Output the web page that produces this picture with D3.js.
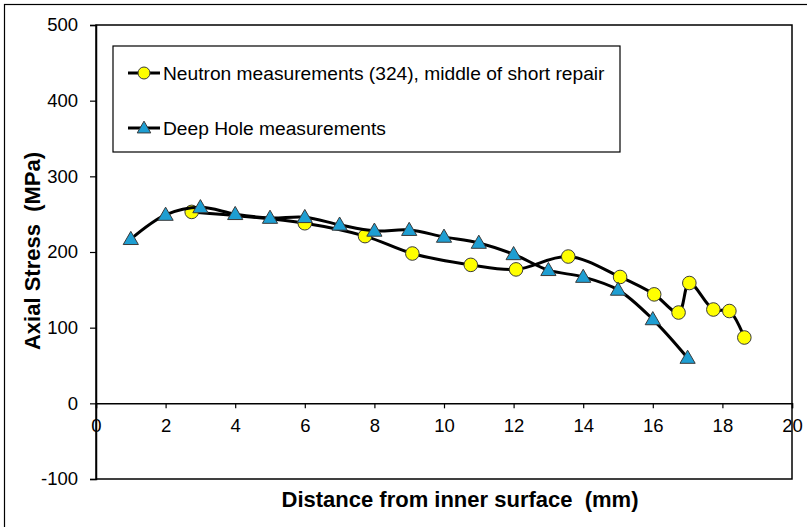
<!DOCTYPE html>
<html>
<head>
<meta charset="utf-8">
<script src="https://cdn.jsdelivr.net/npm/d3@7"></script>
<style>
  html, body { margin: 0; padding: 0; background: #fff; }
  svg { display: block; font-family: "Liberation Sans", Arial, sans-serif; }
  text { white-space: pre; }
</style>
</head>
<body>
<svg id="chart" width="807" height="527"></svg>
<script>
// Neutron measurements (324), middle of short repair
const neutronX = [2.75, 6.0, 7.73, 9.09, 10.77, 12.07, 13.57, 15.06, 16.04, 16.74, 17.05, 17.74, 18.2, 18.63];
const neutronY = [253, 238, 221, 198, 183, 177, 194, 167, 144, 120, 159, 124, 122, 87];

// Deep hole measurements
const deepX = [1, 2, 3, 4, 5, 6, 7, 8, 9, 10, 11, 12, 13, 14, 15, 16, 17];
const deepY = [217, 249, 259, 250, 245, 246, 236, 228, 229, 220, 212, 197, 176, 167, 150, 111, 60];

const xTicks = [0, 2, 4, 6, 8, 10, 12, 14, 16, 18, 20];
const yTicks = [-100, 0, 100, 200, 300, 400, 500];

const seriesNames = ["Neutron measurements (324), middle of short repair", "Deep Hole measurements"];

const svg = d3.select("#chart");
const FONT = "Liberation Sans, Arial, sans-serif";

// outer chart border
svg.append("rect")
  .attr("x", 4.5).attr("y", 4.5)
  .attr("width", 830).attr("height", 540)
  .attr("fill", "none").attr("stroke", "#000").attr("stroke-width", 1.2);

const plot = { left: 96, right: 792, top: 25, bottom: 479 };

const x = d3.scaleLinear().domain([0, 20]).range([plot.left, plot.right]);
const y = d3.scaleLinear().domain([-100, 500]).range([plot.bottom, plot.top]);

// plot frame
svg.append("rect")
  .attr("x", plot.left).attr("y", plot.top)
  .attr("width", plot.right - plot.left).attr("height", plot.bottom - plot.top)
  .attr("fill", "none").attr("stroke", "#000").attr("stroke-width", 1.5);

// y axis
const yAxis = svg.append("g")
  .attr("transform", `translate(${plot.left},0)`)
  .call(d3.axisLeft(y).tickValues(yTicks).tickSize(6).tickPadding(12).tickFormat(d => String(d)));
yAxis.select(".domain").attr("stroke-width", 1.5);
yAxis.selectAll(".tick line").attr("stroke-width", 1.2);
yAxis.selectAll("text").attr("font-size", 18.5).attr("fill", "#000").attr("font-family", FONT);

// x axis at zero
const xAxis = svg.append("g")
  .attr("transform", `translate(0,${y(0)})`)
  .call(d3.axisBottom(x).tickValues(xTicks).tickSize(5).tickPadding(11).tickFormat(d => String(d)));
xAxis.select(".domain").attr("stroke-width", 1.5);
xAxis.selectAll(".tick line").attr("stroke-width", 1.2);
xAxis.selectAll("text").attr("font-size", 18.5).attr("fill", "#000").attr("font-family", FONT);

// axis titles
svg.append("text")
  .attr("x", 460).attr("y", 507)
  .attr("text-anchor", "middle")
  .attr("font-size", 22).attr("font-weight", "bold")
  .text("Distance from inner surface  (mm)");

svg.append("text")
  .attr("transform", "translate(40,251) rotate(-90)")
  .attr("text-anchor", "middle")
  .attr("font-size", 22).attr("font-weight", "bold")
  .text("Axial Stress  (MPa)");

const line = d3.line()
  .x(d => x(d[0])).y(d => y(d[1]))
  .curve(d3.curveCatmullRom.alpha(0.5));

const neutron = neutronX.map((v, i) => [v, neutronY[i]]);
const deep = deepX.map((v, i) => [v, deepY[i]]);

const circleFill = "#FFFF00";
const triFill = "#1E9ED2";
const markerStroke = "#3a3a3a";
const tri = d3.symbol().type(d3.symbolTriangle).size(100);

// neutron series
svg.append("path").datum(neutron)
  .attr("d", line).attr("fill", "none")
  .attr("stroke", "#000").attr("stroke-width", 3);
svg.append("g").selectAll("circle").data(neutron).join("circle")
  .attr("cx", d => x(d[0])).attr("cy", d => y(d[1])).attr("r", 6.8)
  .attr("fill", circleFill).attr("stroke", markerStroke).attr("stroke-width", 1);

// deep hole series
svg.append("path").datum(deep)
  .attr("d", line).attr("fill", "none")
  .attr("stroke", "#000").attr("stroke-width", 3);
svg.append("g").selectAll("path").data(deep).join("path")
  .attr("d", tri)
  .attr("transform", d => `translate(${x(d[0])},${y(d[1]) + 1})`)
  .attr("fill", triFill).attr("stroke", markerStroke).attr("stroke-width", 1);

// legend
const legend = svg.append("g");
legend.append("rect")
  .attr("x", 113).attr("y", 46).attr("width", 507).attr("height", 106)
  .attr("fill", "#fff").attr("stroke", "#000").attr("stroke-width", 1.2);

const rows = [73, 128];
seriesNames.forEach((name, i) => {
  const cy = rows[i];
  legend.append("line")
    .attr("x1", 128).attr("x2", 160).attr("y1", cy).attr("y2", cy)
    .attr("stroke", "#000").attr("stroke-width", 3);
  if (i === 0) {
    legend.append("circle").attr("cx", 144).attr("cy", cy).attr("r", 6)
      .attr("fill", circleFill).attr("stroke", markerStroke).attr("stroke-width", 1);
  } else {
    legend.append("path").attr("d", d3.symbol().type(d3.symbolTriangle).size(80))
      .attr("transform", `translate(144,${cy + 1})`)
      .attr("fill", triFill).attr("stroke", markerStroke).attr("stroke-width", 1);
  }
  legend.append("text")
    .attr("x", 163).attr("y", cy).attr("dy", "0.35em")
    .attr("font-size", 19.2).attr("fill", "#000").attr("font-family", FONT)
    .text(name);
});
</script>
</body>
</html>
